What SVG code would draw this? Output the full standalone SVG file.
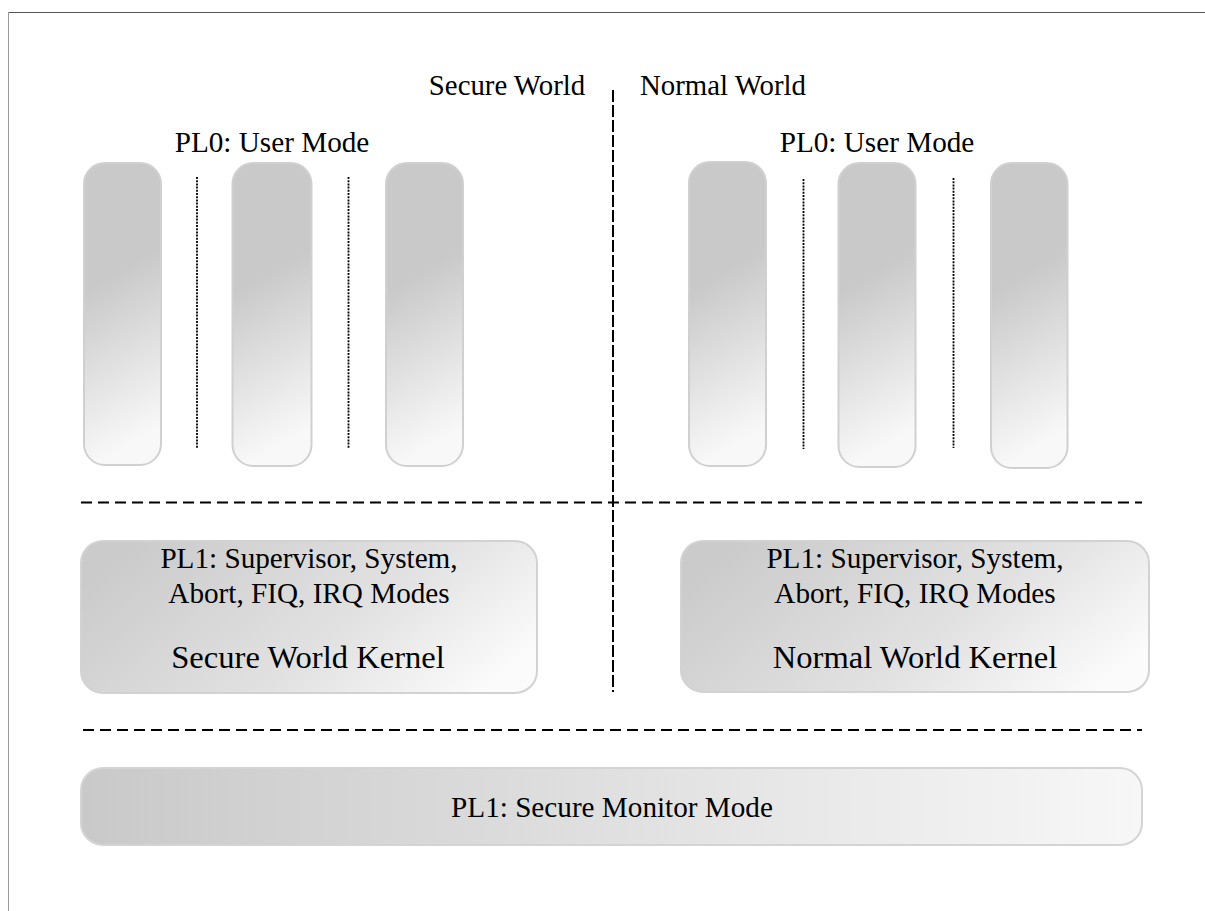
<svg xmlns="http://www.w3.org/2000/svg" width="1205" height="911" viewBox="0 0 1205 911">
  <style>
    text { font-family: "Liberation Serif", "DejaVu Serif", "Times New Roman", Times, serif; fill: #000; text-anchor: middle; }
    .head { font-size: 28.8px; }
    .lbl { font-size: 29.2px; }
    .title { font-size: 32.6px; }
    .col { fill: url(#gCol); stroke: #d0d0d0; stroke-width: 2; }
    .kern { fill: url(#gKern); stroke: #d2d2d2; stroke-width: 2; }
    .mon { fill: url(#gMon); stroke: #d4d4d4; stroke-width: 2; }
    .dash { stroke: #000; stroke-width: 2.2; stroke-dasharray: 11 6; fill: none; }
    .vdash { stroke: #000; stroke-width: 2; stroke-dasharray: 12 3; fill: none; }
    .dot { stroke: #000; stroke-width: 1.8; stroke-dasharray: 2 1.2; fill: none; }
  </style>
  <defs>
    <linearGradient id="gCol" x1="0" y1="0" x2="0.15" y2="1">
      <stop offset="0" stop-color="#c9c9c9"/>
      <stop offset="0.42" stop-color="#c9c9c9"/>
      <stop offset="1" stop-color="#f8f8f8"/>
    </linearGradient>
    <linearGradient id="gKern" x1="0" y1="0.3" x2="1" y2="0.7">
      <stop offset="0" stop-color="#cbcbcb"/>
      <stop offset="0.6" stop-color="#e2e2e2"/>
      <stop offset="1" stop-color="#fbfbfb"/>
    </linearGradient>
    <linearGradient id="gMon" x1="0" y1="0" x2="1" y2="0">
      <stop offset="0" stop-color="#c9c9c9"/>
      <stop offset="1" stop-color="#f7f7f7"/>
    </linearGradient>
  </defs>

  <rect width="1205" height="911" fill="#fff"/>

  <!-- outer frame edges -->
  <g id="frame">
    <line x1="8" y1="12.5" x2="1205" y2="12.5" stroke="#555" stroke-width="1"/>
    <line x1="8.5" y1="12" x2="8.5" y2="911" stroke="#999" stroke-width="1"/>
  </g>

  <!-- world headings -->
  <g id="world-labels">
    <text class="head" x="507" y="95">Secure World</text>
    <text class="head" x="723" y="95">Normal World</text>
  </g>

  <!-- separators between worlds and privilege levels -->
  <g id="dividers">
    <line class="vdash" x1="613" y1="90" x2="613" y2="692"/>
    <line class="dash" x1="81" y1="502.5" x2="1142" y2="502.5"/>
    <line class="dash" x1="83" y1="730" x2="1142" y2="730"/>
  </g>

  <!-- PL0 user mode, secure side -->
  <g id="secure-user">
    <text class="lbl" x="272" y="152">PL0: User Mode</text>
    <rect class="col" x="84" y="163" width="77" height="302" rx="21"/>
    <rect class="col" x="232.5" y="163" width="79" height="303" rx="21"/>
    <rect class="col" x="386" y="163" width="77" height="303" rx="21"/>
    <line class="dot" x1="197" y1="177" x2="197" y2="448"/>
    <line class="dot" x1="348.5" y1="177" x2="348.5" y2="448"/>
  </g>

  <!-- PL0 user mode, normal side -->
  <g id="normal-user">
    <text class="lbl" x="877" y="152">PL0: User Mode</text>
    <rect class="col" x="689" y="162" width="77" height="304" rx="21"/>
    <rect class="col" x="838.5" y="163" width="77" height="304" rx="21"/>
    <rect class="col" x="991" y="163" width="76.5" height="305" rx="21"/>
    <line class="dot" x1="803.5" y1="179" x2="803.5" y2="449"/>
    <line class="dot" x1="953.5" y1="178" x2="953.5" y2="448"/>
  </g>

  <!-- PL1 kernels -->
  <g id="secure-kernel">
    <rect class="kern" x="81" y="541" width="456" height="152" rx="22"/>
    <text class="lbl" x="309" y="568">PL1: Supervisor, System,</text>
    <text class="lbl" x="309" y="603">Abort, FIQ, IRQ Modes</text>
    <text class="title" x="308" y="668">Secure World Kernel</text>
  </g>

  <g id="normal-kernel">
    <rect class="kern" x="681" y="541" width="468" height="151" rx="22"/>
    <text class="lbl" x="915" y="568">PL1: Supervisor, System,</text>
    <text class="lbl" x="915" y="603">Abort, FIQ, IRQ Modes</text>
    <text class="title" x="915" y="668">Normal World Kernel</text>
  </g>

  <!-- monitor mode spanning both worlds -->
  <g id="monitor">
    <rect class="mon" x="81" y="768" width="1061" height="77" rx="22"/>
    <text class="lbl" x="612" y="817">PL1: Secure Monitor Mode</text>
  </g>
</svg>
